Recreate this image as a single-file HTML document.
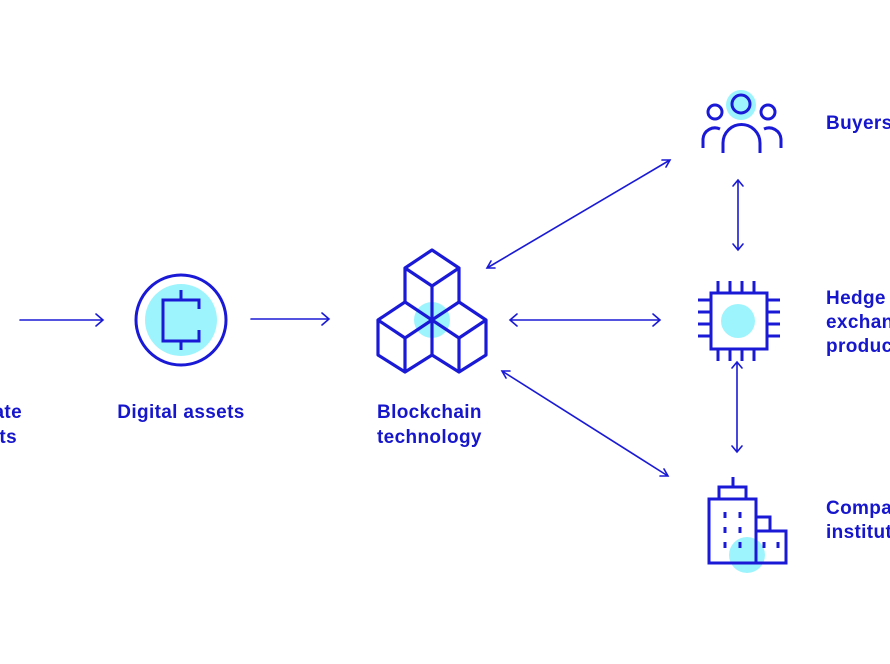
<!DOCTYPE html>
<html><head><style>
html,body{margin:0;padding:0;background:#fff;overflow:hidden}
svg{display:block}
text{font-family:"Liberation Sans",sans-serif;font-weight:bold;font-size:19px;letter-spacing:0.35px;fill:#1616cc}
</style></head><body>
<svg width="890" height="664" viewBox="0 0 890 664" xmlns="http://www.w3.org/2000/svg">
<g fill="none" stroke="#1a1ad6" stroke-width="1.6" stroke-linecap="round">
<path d="M20 320H103M96 314L103 320L96 326"/>
<path d="M251 319H329M322 313L329 319L322 325"/>
<path d="M510 320H660M517 314L510 320L517 326M653 314L660 320L653 326"/>
<path d="M487 268L670 160M495 268L487 268L491 261M662 160L670 160L666 167"/>
<path d="M502 371L668 476M506 378L502 371L510 371M664 469L668 476L660 476"/>
<path d="M738 180V250M733 186L738 180L743 186M733 244L738 250L743 244"/>
<path d="M737 362V452M732 368L737 362L742 368M732 446L737 452L742 446"/>
</g>
<circle cx="181" cy="320" r="36" fill="#9ef4fc"/>
<g fill="none" stroke="#1a1ad6" stroke-width="3">
<circle cx="181" cy="320" r="45"/>
<path d="M181 290V300M181 340V350M199 309V300H163V341H199V330"/>
</g>
<circle cx="432" cy="320" r="18" fill="#9ef4fc"/>
<g fill="none" stroke="#1a1ad6" stroke-width="3.2" stroke-linejoin="round">
<path d="M432 250L459 268L432 286L405 268Z M405 268V302 M459 268V302 M432 286V320"/>
<path d="M378 320L405 302L432 320L405 338Z M378 320V355L405 372L432 355V320 M405 338V372"/>
<path d="M486 320L459 302L432 320L459 338Z M486 320V355L459 372L432 355 M459 338V372"/>
</g>
<circle cx="741" cy="105" r="15" fill="#9ef4fc"/>
<g fill="none" stroke="#1a1ad6" stroke-width="3">
<circle cx="741" cy="104" r="9"/>
<circle cx="715" cy="112" r="7"/>
<circle cx="768" cy="112" r="7"/>
<path d="M723 153V143A18 18 0 0 1 760 143V153"/>
<path d="M703 148V139A12 12 0 0 1 720 129"/>
<path d="M781 148V139A12 12 0 0 0 764 129"/>
</g>
<circle cx="738" cy="321" r="17" fill="#9ef4fc"/>
<g fill="none" stroke="#1a1ad6" stroke-width="3">
<rect x="711" y="293" width="56" height="56"/>
<path d="M718 281V293M730 281V293M742 281V293M754 281V293M718 349V361M730 349V361M742 349V361M754 349V361
M698 300H711M698 312H711M698 324H711M698 336H711M767 300H780M767 312H780M767 324H780M767 336H780"/>
</g>
<circle cx="747" cy="555" r="18" fill="#9ef4fc"/>
<g fill="none" stroke="#1a1ad6" stroke-width="3">
<rect x="709" y="499" width="47" height="64"/>
<rect x="719" y="487" width="27" height="12"/>
<path d="M733 477V487"/>
<rect x="756" y="531" width="30" height="32"/>
<path d="M756 531V517H770V531"/>
<path d="M725 512V518M740 512V518M725 527V533M740 527V533M725 542V548M740 542V548M764 542V548M778 542V548"/>
</g>
<text x="22" y="418" text-anchor="end">ate</text>
<text x="17" y="443" text-anchor="end">ts</text>
<text x="181" y="418" text-anchor="middle">Digital assets</text>
<text x="377" y="418">Blockchain</text>
<text x="377" y="443">technology</text>
<text x="826" y="129">Buyers</text>
<text x="826" y="304">Hedge funds,</text>
<text x="826" y="328">exchange-traded</text>
<text x="826" y="352">products</text>
<text x="826" y="514">Companies,</text>
<text x="826" y="538">institutions</text>
</svg>
</body></html>
